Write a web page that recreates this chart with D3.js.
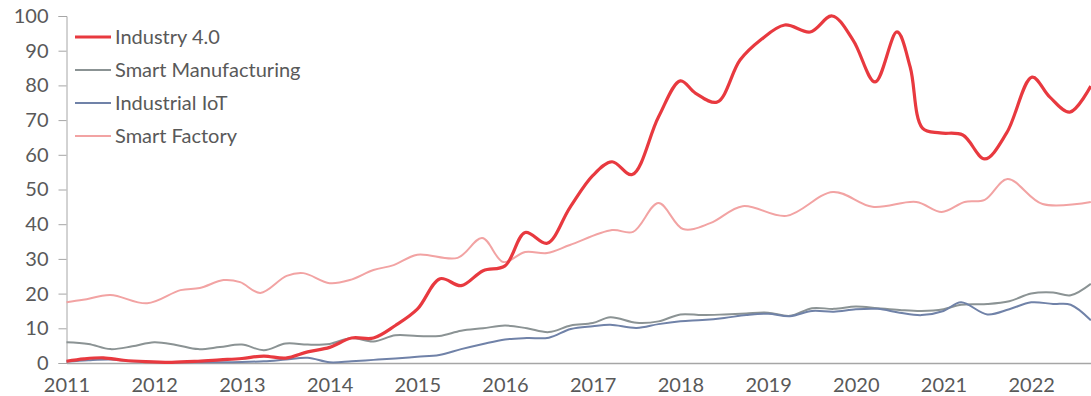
<!DOCTYPE html>
<html>
<head>
<meta charset="utf-8">
<script src="https://cdn.jsdelivr.net/npm/d3@7"></script>
<style>
  body { margin: 0; background: #fff; }
  svg { display: block; font-family: Lato, "Open Sans", sans-serif; }
</style>
</head>
<body>
<svg id="chart" width="1091" height="396"></svg>
<script>
// values, [year, value]
const industry40 = [
  [2011.0, 0.5], [2011.2, 1.2], [2011.42, 1.5], [2011.65, 0.8], [2011.9, 0.4], [2012.2, 0.2],
  [2012.5, 0.5], [2012.75, 0.9], [2013.0, 1.3], [2013.25, 2.0], [2013.5, 1.4], [2013.75, 3.2],
  [2014.0, 4.5], [2014.25, 7.2], [2014.5, 7.2], [2014.75, 10.8], [2015.0, 15.5], [2015.26, 24.3],
  [2015.5, 22.3], [2015.75, 26.6], [2016.0, 28.0], [2016.23, 37.6], [2016.48, 34.5], [2016.74, 44.8],
  [2017.0, 54.0], [2017.22, 58.0], [2017.45, 54.3], [2017.75, 70.9], [2018.0, 81.3], [2018.17, 77.8],
  [2018.42, 75.2], [2018.68, 87.3], [2018.91, 93.0], [2019.19, 97.4], [2019.48, 95.4], [2019.73, 100],
  [2019.97, 93.0], [2020.22, 81.0], [2020.47, 95.4], [2020.62, 85.3], [2020.76, 67.7], [2020.96, 66.3],
  [2021.22, 65.7], [2021.47, 58.8], [2021.72, 66.3], [2022.01, 82.4], [2022.21, 76.7], [2022.44, 72.3],
  [2022.68, 79.8]
];
const smartManufacturing = [
  [2011.0, 6.0], [2011.25, 5.5], [2011.5, 4.0], [2011.75, 4.8], [2012.0, 6.0], [2012.25, 5.2],
  [2012.5, 4.0], [2012.75, 4.6], [2013.0, 5.3], [2013.25, 3.7], [2013.5, 5.6], [2013.75, 5.3],
  [2014.0, 5.5], [2014.25, 7.2], [2014.5, 6.2], [2014.75, 8.0], [2015.0, 7.8], [2015.25, 7.8],
  [2015.5, 9.3], [2015.75, 10.0], [2016.0, 10.8], [2016.25, 10.0], [2016.5, 8.9], [2016.75, 10.8],
  [2017.0, 11.5], [2017.2, 13.2], [2017.5, 11.6], [2017.75, 12.0], [2018.0, 14.0], [2018.25, 13.8],
  [2018.5, 14.0], [2018.75, 14.3], [2019.0, 14.5], [2019.25, 13.6], [2019.5, 15.8], [2019.75, 15.6],
  [2020.0, 16.3], [2020.25, 15.8], [2020.5, 15.3], [2020.75, 15.0], [2021.0, 15.5], [2021.2, 16.8],
  [2021.5, 17.0], [2021.75, 17.8], [2022.0, 20.0], [2022.25, 20.3], [2022.45, 19.5], [2022.68, 22.8]
];
const industrialIoT = [
  [2011.0, 0.4], [2011.25, 0.8], [2011.5, 1.0], [2011.75, 0.5], [2012.0, 0.3], [2012.5, 0.2],
  [2013.0, 0.3], [2013.25, 0.5], [2013.5, 1.0], [2013.75, 1.5], [2014.0, 0.2], [2014.25, 0.5],
  [2014.5, 0.9], [2014.75, 1.3], [2015.0, 1.8], [2015.25, 2.3], [2015.5, 4.0], [2015.75, 5.5],
  [2016.0, 6.8], [2016.25, 7.2], [2016.5, 7.3], [2016.75, 9.8], [2017.0, 10.6], [2017.2, 11.0],
  [2017.5, 10.1], [2017.75, 11.2], [2018.0, 12.0], [2018.25, 12.4], [2018.5, 13.0], [2018.75, 13.8],
  [2019.0, 14.2], [2019.25, 13.5], [2019.5, 15.0], [2019.75, 14.8], [2020.0, 15.5], [2020.25, 15.6],
  [2020.5, 14.5], [2020.75, 13.8], [2021.0, 15.0], [2021.2, 17.5], [2021.5, 14.0], [2021.75, 15.5],
  [2022.0, 17.5], [2022.25, 17.0], [2022.45, 16.8], [2022.68, 12.3]
];
const smartFactory = [
  [2011.0, 17.5], [2011.19, 18.2], [2011.5, 19.6], [2011.92, 17.2], [2012.3, 21.0], [2012.52, 21.6],
  [2012.79, 23.9], [2012.98, 23.3], [2013.21, 20.2], [2013.51, 25.1], [2013.7, 25.9], [2014.0, 23.0],
  [2014.23, 23.9], [2014.5, 26.8], [2014.73, 28.2], [2015.0, 31.2], [2015.46, 30.3], [2015.74, 36.0],
  [2015.98, 29.1], [2016.23, 32.0], [2016.48, 31.7], [2016.74, 34.0], [2017.22, 38.3], [2017.46, 37.8],
  [2017.75, 46.1], [2018.03, 38.6], [2018.34, 40.3], [2018.71, 45.2], [2019.21, 42.4], [2019.74, 49.3],
  [2020.19, 45.0], [2020.69, 46.4], [2020.98, 43.5], [2021.24, 46.4], [2021.47, 47.0], [2021.73, 53.0],
  [2022.13, 45.8], [2022.68, 46.4]
];

const years = d3.range(2011, 2023);
const yTicks = d3.range(0, 101, 10);

const series = [
  {name: "Industry 4.0", values: industry40, color: "#e8393f", width: 3.2},
  {name: "Smart Manufacturing", values: smartManufacturing, color: "#8b9394", width: 2},
  {name: "Industrial IoT", values: industrialIoT, color: "#7082a8", width: 2},
  {name: "Smart Factory", values: smartFactory, color: "#f2a3a3", width: 2}
];

const svg = d3.select("#chart");
const x = d3.scaleLinear().domain([2011, 2023]).range([66.5, 66.5 + 12 * 87.7]);
const y = d3.scaleLinear().domain([0, 100]).range([363, 16]);

// y axis
const gy = svg.append("g")
    .attr("transform", "translate(66.5,0)")
    .call(d3.axisLeft(y).tickValues(yTicks).tickSize(8).tickPadding(10));
gy.select(".domain").attr("stroke", "#a6a6a6");
gy.selectAll(".tick line").attr("stroke", "#a6a6a6");
gy.selectAll(".tick text").attr("fill", "#595959").style("font-size", "20px").style("font-family", "Lato, sans-serif");

// x axis
const gx = svg.append("g")
    .attr("transform", "translate(0,363)")
    .call(d3.axisBottom(x).tickValues(years).tickFormat(d3.format("d")).tickSize(0).tickPadding(15));
gx.select(".domain").attr("stroke", "#a6a6a6").attr("stroke-width", 1.5);
gx.selectAll(".tick text").attr("fill", "#595959").style("font-size", "20px").style("font-family", "Lato, sans-serif");

const line = d3.line()
    .x(d => x(d[0]))
    .y(d => y(d[1]))
    .curve(d3.curveCatmullRom.alpha(0.5));

// draw back to front: factory, manufacturing, iot, then industry 4.0 on top
[series[3], series[1], series[2], series[0]].forEach(s => {
  svg.append("path")
      .datum(s.values)
      .attr("fill", "none")
      .attr("stroke", s.color)
      .attr("stroke-width", s.width)
      .attr("stroke-linejoin", "round")
      .attr("d", line);
});

// legend
const legend = svg.append("g").attr("transform", "translate(75,37)");
series.forEach((s, i) => {
  const g = legend.append("g").attr("transform", `translate(0,${i * 33})`);
  g.append("line").attr("x1", 0).attr("x2", 36).attr("y1", 0).attr("y2", 0)
      .attr("stroke", s.color).attr("stroke-width", s.width);
  g.append("text").attr("x", 40).attr("y", 0).attr("dy", "0.35em")
      .attr("fill", "#595959").style("font-size", "20px").text(s.name);
});
</script>
</body>
</html>
